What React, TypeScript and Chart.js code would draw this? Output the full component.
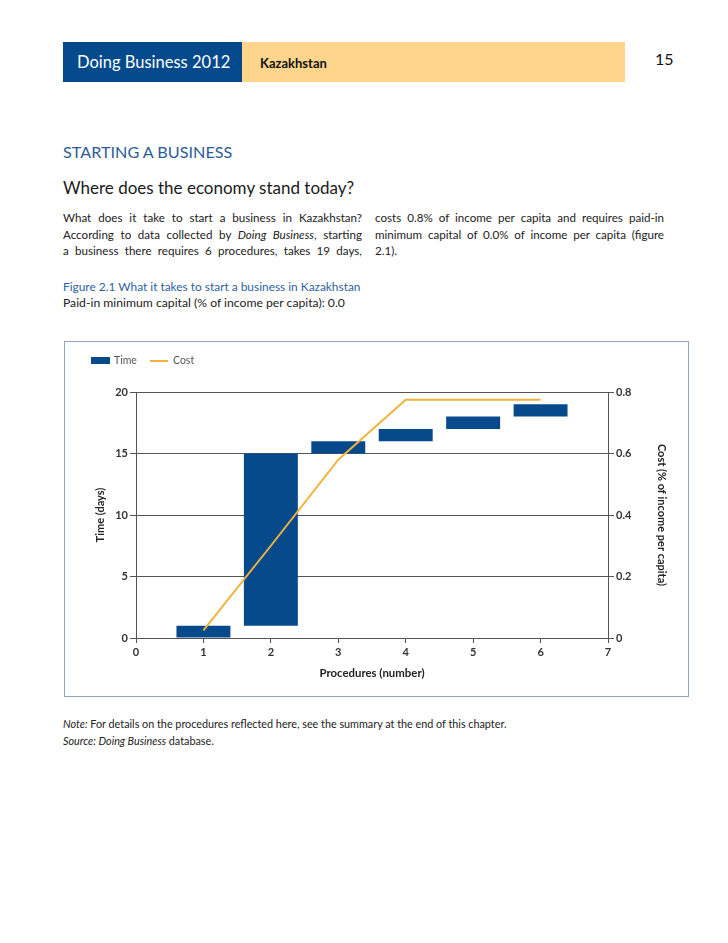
import React, { useEffect, useRef } from "react";
import { Chart, registerables } from "chart.js";

Chart.register(...registerables);

// ---- Data ----
const procedures = [1, 2, 3, 4, 5, 6];
const timeStart = [0, 1, 15, 16, 17, 18];
const timeEnd = [1, 15, 16, 17, 18, 19];
const costValues = [0.025, 0.3, 0.58, 0.775, 0.775, 0.775];
const xTicks = [0, 1, 2, 3, 4, 5, 6, 7];
const leftTicks = [0, 5, 10, 15, 20];
const rightTicks = [0, 0.2, 0.4, 0.6, 0.8];

const BLUE = "#064a8c";
const ORANGE = "#f2b33d";
const FONT = "Lato, 'Open Sans', sans-serif";
const AXIS = "#555555";

function FigureChart() {
  const ref = useRef<HTMLCanvasElement | null>(null);
  useEffect(() => {
    if (!ref.current) return;
    const chart = new Chart(ref.current, {
      type: "bar",
      data: {
        datasets: [
          {
            type: "bar",
            label: "Time",
            data: procedures.map((p, i) => ({ x: p, y: [timeStart[i], timeEnd[i]] })) as any,
            backgroundColor: BLUE,
            borderWidth: 0,
            barPercentage: 0.8,
            categoryPercentage: 1,
            yAxisID: "y",
            order: 2,
          },
          {
            type: "line",
            label: "Cost",
            data: procedures.map((p, i) => ({ x: p, y: costValues[i] })) as any,
            borderColor: ORANGE,
            borderWidth: 2,
            pointRadius: 0,
            tension: 0,
            yAxisID: "y1",
            order: 1,
          },
        ],
      },
      options: {
        animation: false,
        responsive: false,
        maintainAspectRatio: false,
        layout: { padding: { top: 50, left: 0, right: 0, bottom: 0 } },
        plugins: { legend: { display: false }, tooltip: { enabled: false } },
        scales: {
          x: {
            type: "linear",
            min: 0,
            max: 7,
            offset: false,
            afterBuildTicks: (s: any) => {
              s.ticks = xTicks.map((v) => ({ value: v }));
            },
            afterFit: (s: any) => {
              s.height = 58;
            },
            grid: { drawOnChartArea: false, tickLength: 5, tickColor: AXIS, offset: false },
            border: { display: true, color: AXIS, width: 1 },
            ticks: { color: "#333", font: { family: FONT, size: 11, weight: "bold" }, padding: 3 },
            title: {
              display: true,
              text: "Procedures (number)",
              color: "#222",
              font: { family: FONT, size: 11.4, weight: "bold" },
              padding: { top: 0, bottom: 16 },
            },
          },
          y: {
            position: "left",
            min: 0,
            max: 20,
            afterBuildTicks: (s: any) => {
              s.ticks = leftTicks.map((v) => ({ value: v }));
            },
            afterFit: (s: any) => {
              s.width = 71;
            },
            grid: { drawOnChartArea: true, color: AXIS, tickLength: 6, tickColor: AXIS },
            border: { display: true, color: AXIS, width: 1 },
            ticks: { color: "#333", font: { family: FONT, size: 11, weight: "bold" }, padding: 2 },
            title: {
              display: true,
              text: "Time (days)",
              color: "#222",
              font: { family: FONT, size: 11, weight: "bold" },
              padding: { top: 29, bottom: 0 },
            },
          },
          y1: {
            position: "right",
            min: 0,
            max: 0.8,
            afterBuildTicks: (s: any) => {
              s.ticks = rightTicks.map((v) => ({ value: v }));
            },
            afterFit: (s: any) => {
              s.width = 80;
            },
            grid: { drawOnChartArea: false, tickLength: 6, tickColor: AXIS },
            border: { display: true, color: AXIS, width: 1 },
            ticks: {
              color: "#333",
              font: { family: FONT, size: 11, weight: "bold" },
              padding: 2,
              callback: (v: any) => (v === 0 ? "0" : Number(v).toFixed(1)),
            },
            title: {
              display: true,
              text: "Cost (% of income per capita)",
              color: "#222",
              font: { family: FONT, size: 11, weight: "bold" },
              padding: { top: 20, bottom: 0 },
            },
          },
        },
      } as any,
    });
    return () => chart.destroy();
  }, []);
  return <canvas ref={ref} width={623} height={354} style={{ position: "absolute", left: 0, top: 0 }} />;
}

const lineStyle: React.CSSProperties = {
  position: "absolute",
  height: 17,
  lineHeight: "17px",
  fontSize: 12,
  textAlign: "justify",
  whiteSpace: "nowrap",
  color: "#222",
};

function JLine({ x, y, w, children, last }: any) {
  return (
    <div
      style={{
        ...lineStyle,
        left: x,
        top: y,
        width: w,
        whiteSpace: "normal",
        textAlignLast: last ? "left" : "justify",
        overflow: "hidden",
        fontSize: 11.6,
      }}
    >
      {children}
    </div>
  );
}

export default function App() {
  return (
    <div
      style={{
        position: "relative",
        width: 712,
        height: 927,
        fontFamily: FONT,
        background: "#fff",
        margin: -8,
        marginBottom: 0,
      }}
    >
      {/* Header */}
      <div style={{ position: "absolute", left: 63, top: 42, width: 179, height: 40, background: "#034a8c" }} />
      <div
        style={{
          position: "absolute",
          left: 77,
          top: 42,
          height: 40,
          lineHeight: "40px",
          color: "#fff",
          fontSize: 16.5,
        }}
      >
        Doing Business 2012
      </div>
      <div style={{ position: "absolute", left: 242, top: 42, width: 383, height: 40, background: "#fed58a" }} />
      <div
        style={{
          position: "absolute",
          left: 260,
          top: 43,
          height: 40,
          lineHeight: "40px",
          color: "#111",
          fontSize: 13,
          fontWeight: "bold",
        }}
      >
        Kazakhstan
      </div>
      <div style={{ position: "absolute", left: 655, top: 49, fontSize: 16, color: "#111" }}>15</div>

      {/* Headings */}
      <div style={{ position: "absolute", left: 63, top: 141, fontSize: 16.2, color: "#2c5d97", lineHeight: "22px" }}>
        STARTING A BUSINESS
      </div>
      <div style={{ position: "absolute", left: 63, top: 176, fontSize: 17, color: "#1a1a1a", lineHeight: "24px" }}>
        Where does the economy stand today?
      </div>

      {/* Body text */}
      <JLine x={63} y={209} w={299}>What does it take to start a business in Kazakhstan?</JLine>
      <JLine x={63} y={226} w={299}>
        According to data collected by <i>Doing Business</i>, starting
      </JLine>
      <JLine x={63} y={242} w={299}>a business there requires 6 procedures, takes 19 days,</JLine>
      <JLine x={375} y={209} w={289}>costs 0.8% of income per capita and requires paid-in</JLine>
      <JLine x={375} y={226} w={289}>minimum capital of 0.0% of income per capita (figure</JLine>
      <JLine x={375} y={242} w={289} last>
        2.1).
      </JLine>

      {/* Figure caption */}
      <div style={{ ...lineStyle, left: 63, top: 278, color: "#2d62a0", fontSize: 11.9 }}>
        Figure 2.1 What it takes to start a business in Kazakhstan
      </div>
      <div style={{ ...lineStyle, left: 63, top: 294, fontSize: 12.2 }}>
        Paid-in minimum capital (% of income per capita): 0.0
      </div>

      {/* Chart box */}
      <div
        style={{
          position: "absolute",
          left: 64,
          top: 341,
          width: 623,
          height: 354,
          border: "1px solid #8ea5bb",
        }}
      >
        <FigureChart />
        {/* Legend */}
        <div style={{ position: "absolute", left: 26, top: 15, width: 19, height: 7, background: BLUE }} />
        <div style={{ position: "absolute", left: 49, top: 11, fontSize: 10.5, color: "#555", lineHeight: "14px" }}>
          Time
        </div>
        <div style={{ position: "absolute", left: 85, top: 18, width: 18, height: 2, background: ORANGE }} />
        <div style={{ position: "absolute", left: 108, top: 11, fontSize: 10.5, color: "#555", lineHeight: "14px" }}>
          Cost
        </div>
      </div>

      {/* Notes */}
      <div style={{ position: "absolute", left: 63, top: 716, fontSize: 10.8, color: "#222", lineHeight: "16px" }}>
        <i>Note:</i> For details on the procedures reflected here, see the summary at the end of this chapter.
      </div>
      <div style={{ position: "absolute", left: 63, top: 733, fontSize: 10.8, color: "#222", lineHeight: "16px" }}>
        <i>Source: Doing Business</i> database.
      </div>
    </div>
  );
}
